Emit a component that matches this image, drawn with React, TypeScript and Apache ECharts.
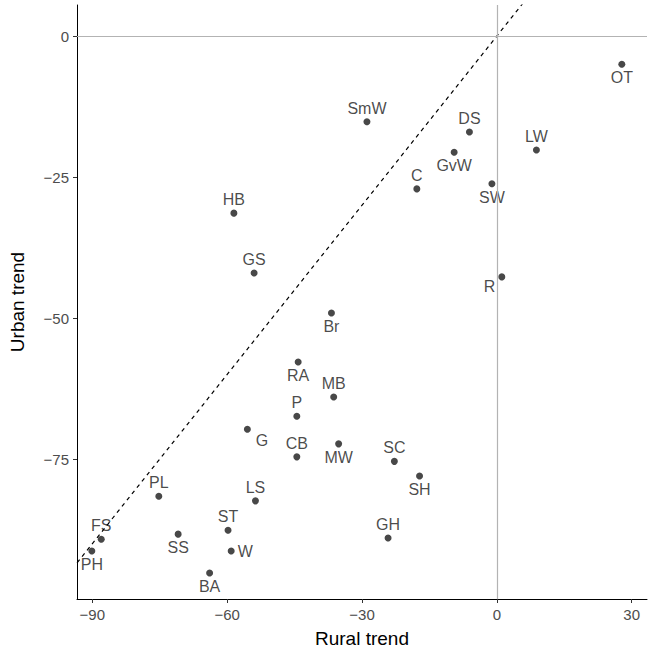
import { useEffect, useRef } from 'react';
import * as echarts from 'echarts';

const names = ['OT', 'DS', 'SmW', 'LW', 'GvW', 'C', 'SW', 'HB', 'GS', 'R', 'Br', 'RA', 'MB', 'P', 'G', 'CB', 'MW', 'SC', 'SH', 'PL', 'LS', 'ST', 'GH', 'FS', 'SS', 'W', 'PH', 'BA'];
const rural = [27.8, -6.1, -28.9, 8.8, -9.5, -17.8, -1.1, -58.5, -54, 1.1, -36.8, -44.2, -36.3, -44.5, -55.5, -44.5, -35.2, -22.8, -17.2, -75.2, -53.7, -59.8, -24.2, -88.0, -70.9, -59.1, -90.1, -63.9];
const urban = [-5.0, -17.0, -15.2, -20.2, -20.6, -27.1, -26.2, -31.4, -42.0, -42.7, -49.1, -57.8, -64.0, -67.4, -69.7, -74.6, -72.3, -75.4, -78.0, -81.6, -82.4, -87.6, -89.0, -89.2, -88.3, -91.3, -91.3, -95.2];
const labelPos = ['bottom', 'top', 'top', 'top', 'bottom', 'top', 'bottom', 'top', 'top', 'left-bottom', 'bottom', 'bottom', 'top', 'top', 'right-bottom', 'top', 'bottom', 'top', 'bottom', 'top', 'top', 'top', 'top', 'top', 'bottom', 'right', 'bottom', 'bottom'];
const xTicks = [-90, -60, -30, 0, 30];
const yTicks = [0, -25, -50, -75];
const diagonal = [[-120, -120], [60, 60]];

const minus = (v: number) => String(v).replace('-', '\u2212');

export default function App() {
  const ref = useRef<HTMLDivElement>(null);

  useEffect(() => {
    if (!ref.current) return;
    const chart = echarts.init(ref.current, null, { renderer: 'svg' });

    const pts = names.map((n, i) => {
      const p = labelPos[i];
      let label: any = { position: 'top', distance: 2 };
      if (p === 'bottom') label = { position: 'bottom', distance: 2 };
      if (p === 'right') label = { position: 'right', distance: 3 };
      if (p === 'left-bottom') label = { position: 'left', offset: [2, 10] };
      if (p === 'right-bottom') label = { position: 'right', offset: [0, 11] };
      return { name: n, value: [rural[i], urban[i]], label };
    });

    const axisCommon = {
      axisLine: { onZero: false, lineStyle: { color: '#000', width: 1 } },
      axisTick: { length: 4, lineStyle: { color: '#333' } },
      axisLabel: { color: '#4d4d4d', fontSize: 15, fontFamily: 'Liberation Sans', formatter: minus },
      splitLine: { show: false },
      nameLocation: 'middle' as const,
      nameTextStyle: { color: '#000', fontSize: 19, fontFamily: 'Liberation Sans' },
    };

    chart.setOption({
      animation: false,
      grid: { left: 75, right: 1, top: 5, bottom: 56 },
      xAxis: {
        ...axisCommon,
        type: 'value', min: -93.4, max: 33.4, name: 'Rural trend', nameGap: 30,
        axisLabel: { ...axisCommon.axisLabel, customValues: xTicks },
        axisTick: { ...axisCommon.axisTick, customValues: xTicks },
      },
      yAxis: {
        ...axisCommon,
        type: 'value', min: -99.8, max: 5.5, name: 'Urban trend', nameGap: 50,
        axisLabel: { ...axisCommon.axisLabel, customValues: yTicks },
        axisTick: { ...axisCommon.axisTick, customValues: yTicks },
      },
      series: [
        {
          type: 'line', data: diagonal, showSymbol: false, clip: true, silent: true,
          lineStyle: { color: '#000', type: [4, 4], width: 1.2 },
          markLine: {
            silent: true, symbol: 'none', label: { show: false },
            lineStyle: { color: '#b3b3b3', type: 'solid', width: 1.2 },
            data: [{ xAxis: 0 }, { yAxis: 0 }],
          },
        },
        {
          type: 'scatter', data: pts, symbolSize: 7,
          itemStyle: { color: '#1a1a1a' },
          label: {
            show: true, formatter: '{b}', color: '#1a1a1a', fontSize: 16,
            fontFamily: 'Liberation Sans',
          },
        },
      ],
    });

    return () => chart.dispose();
  }, []);

  return <div ref={ref} style={{ position: 'absolute', left: 0, top: 0, width: 648, height: 655 }} />;
}
